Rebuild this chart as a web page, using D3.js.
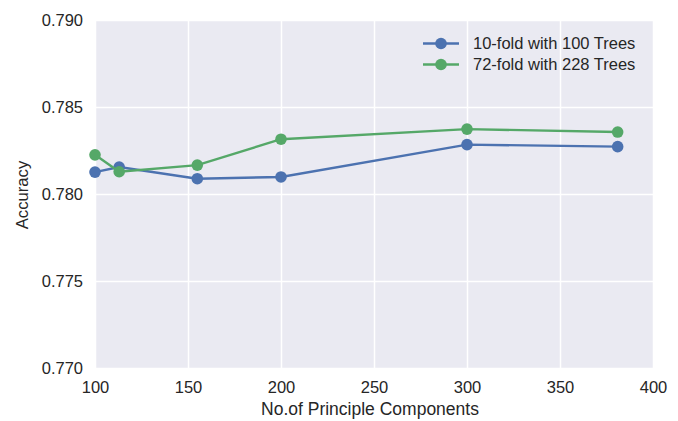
<!DOCTYPE html>
<html>
<head>
<meta charset="utf-8">
<script src="https://cdn.jsdelivr.net/npm/d3@7"></script>
<style>
  body { margin: 0; background: #fff; }
  text { font-family: "Liberation Sans", Arial, sans-serif; fill: #262626; }
</style>
</head>
<body>
<div id="chart"></div>
<script>
// chart values
var components = [100, 113, 155, 200, 300, 381];
var acc_10fold = [0.78126, 0.78155, 0.78088, 0.78098, 0.78284, 0.78272];
var acc_72fold = [0.78225, 0.78128, 0.78166, 0.78315, 0.78373, 0.78356];
var seriesNames = ["10-fold with 100 Trees", "72-fold with 228 Trees"];
var seriesColors = ["#4C72B0", "#55A868"];
var xTicks = [100, 150, 200, 250, 300, 350, 400];
var yTicks = [0.770, 0.775, 0.780, 0.785, 0.790];

function draw() {
	var W = 678, H = 421;
	var margin = {top: 20, right: 25, bottom: 53, left: 95};

	var svg = d3.select("#chart").append("svg")
		.attr("width", W)
		.attr("height", H);

	var x = d3.scaleLinear().domain([100, 400]).range([margin.left, W - margin.right]);
	var y = d3.scaleLinear().domain([0.770, 0.790]).range([H - margin.bottom, margin.top]);

	// background
	svg.append("rect")
		.attr("x", x(100)).attr("y", y(0.790))
		.attr("width", x(400) - x(100))
		.attr("height", y(0.770) - y(0.790))
		.style("fill", "#EAEAF2");

	// grid
	svg.append("g")
		.attr("transform", "translate(0," + y(0.770) + ")")
		.call(d3.axisBottom(x).tickValues(xTicks).tickSize(-(y(0.770) - y(0.790))).tickFormat(""))
		.call(function(g) { g.select(".domain").remove(); })
		.selectAll("line").style("stroke", "#fff").style("stroke-width", 1.5);

	svg.append("g")
		.attr("transform", "translate(" + x(100) + ",0)")
		.call(d3.axisLeft(y).tickValues(yTicks).tickSize(-(x(400) - x(100))).tickFormat(""))
		.call(function(g) { g.select(".domain").remove(); })
		.selectAll("line").style("stroke", "#fff").style("stroke-width", 1.5);

	// tick labels
	var xAxis = svg.append("g")
		.attr("transform", "translate(0," + y(0.770) + ")")
		.call(d3.axisBottom(x).tickValues(xTicks).tickSize(0).tickPadding(13).tickFormat(d3.format("d")));
	xAxis.select(".domain").remove();
	xAxis.selectAll("text").style("font-size", "16.5px").style("font-family", "Liberation Sans, Arial, sans-serif").attr("fill", "#262626");

	var yAxis = svg.append("g")
		.attr("transform", "translate(" + x(100) + ",0)")
		.call(d3.axisLeft(y).tickValues(yTicks).tickSize(0).tickPadding(12).tickFormat(d3.format(".3f")));
	yAxis.select(".domain").remove();
	yAxis.selectAll("text").style("font-size", "16.5px").style("font-family", "Liberation Sans, Arial, sans-serif").attr("fill", "#262626");

	// axis titles
	svg.append("text")
		.attr("x", (x(100) + x(400)) / 2 - 4)
		.attr("y", 415)
		.attr("text-anchor", "middle")
		.style("font-size", "17.5px")
		.text("No.of Principle Components");

	svg.append("text")
		.attr("transform", "translate(28," + ((y(0.770) + y(0.790)) / 2 + 1) + ") rotate(-90)")
		.attr("text-anchor", "middle")
		.style("font-size", "16.7px")
		.text("Accuracy");

	var plot = svg.append("g");
	var line = d3.line().x(function(d) { return x(d[0]); }).y(function(d) { return y(d[1]); });

	[acc_10fold, acc_72fold].forEach(function(vals, i) {
		var pts = components.map(function(c, j) { return [c, vals[j]]; });
		plot.append("path")
			.datum(pts)
			.attr("d", line)
			.style("fill", "none")
			.style("stroke", seriesColors[i])
			.style("stroke-width", 2.4);
		plot.selectAll(".pt" + i)
			.data(pts)
			.enter()
			.append("circle")
				.attr("class", "pt" + i)
				.attr("cx", function(d) { return x(d[0]); })
				.attr("cy", function(d) { return y(d[1]); })
				.attr("r", 5.8)
				.style("fill", seriesColors[i]);
	});

	// legend
	var legend = svg.append("g").attr("transform", "translate(423,43.5)");
	seriesNames.forEach(function(name, i) {
		var row = legend.append("g").attr("transform", "translate(0," + (i * 21) + ")");
		row.append("line")
			.attr("x1", 0).attr("x2", 36)
			.style("stroke", seriesColors[i]).style("stroke-width", 2.4);
		row.append("circle").attr("cx", 18).attr("r", 5.8).style("fill", seriesColors[i]);
		row.append("text")
			.attr("x", 50).attr("dy", "0.35em")
			.style("font-size", "16.5px")
			.text(name);
	});
}

draw();
</script>
</body>
</html>
